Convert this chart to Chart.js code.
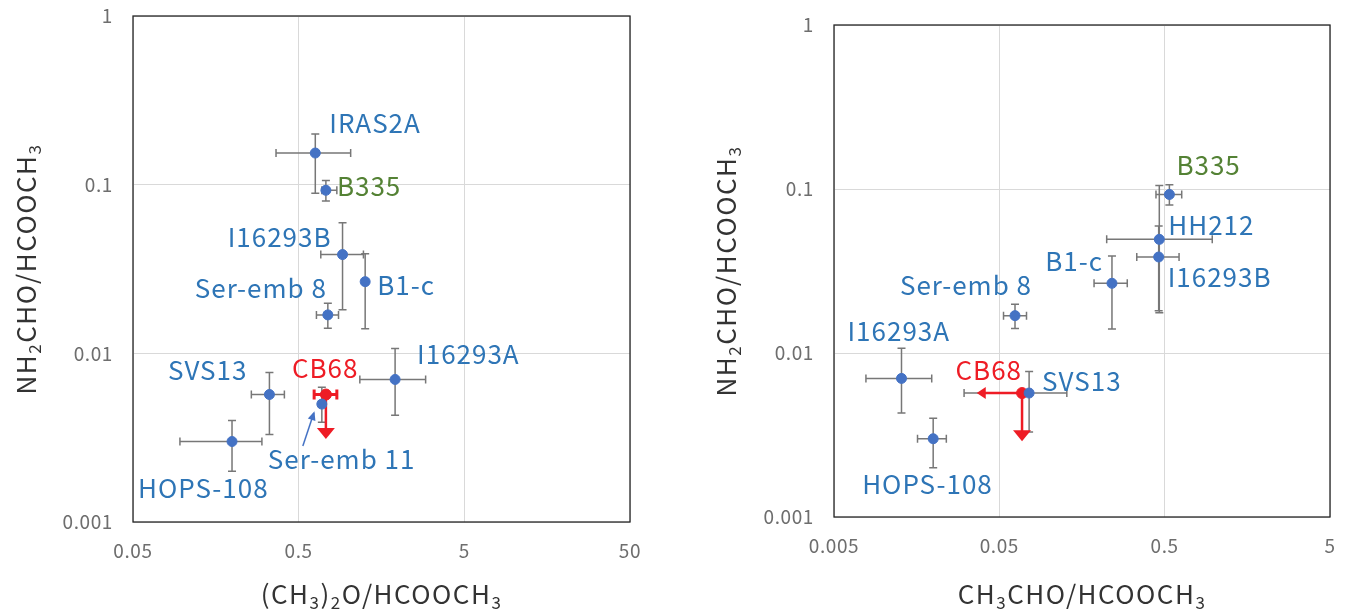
<!DOCTYPE html>
<html>
<head>
<meta charset="utf-8">
<script src="https://cdn.jsdelivr.net/npm/chart.js@4.4.1/dist/chart.umd.min.js"></script>
<style>
    body { margin: 0; background: #fff; }
    #chartLeft { position: absolute; left: 0; top: 0; }
    #chartRight { position: absolute; left: 700px; top: 0; }
</style>
</head>
<body>
<canvas id="chartLeft" width="680" height="611"></canvas>
<canvas id="chartRight" width="661" height="611"></canvas>
<script>
// ===========================
// DATOS - panel izquierdo: (CH3)2O/HCOOCH3 vs NH2CHO/HCOOCH3
// ===========================
const leftNames = ["IRAS2A", "B335", "I16293B", "B1-c", "Ser-emb 8", "I16293A", "SVS13", "HOPS-108", "Ser-emb 11"];
const leftX   = [0.63, 0.73, 0.92, 1.26, 0.75, 1.91, 0.333, 0.198, 0.69];
const leftXLo = [0.365, 0.69, 0.68, 1.22, 0.64, 1.17, 0.259, 0.096, 0.66];
const leftXHi = [1.03, 0.85, 1.23, 1.30, 0.87, 2.92, 0.41, 0.30, 0.72];
const leftY   = [0.154, 0.0926, 0.0385, 0.0266, 0.0169, 0.0070, 0.0057, 0.0030, 0.0050];
const leftYLo = [0.089, 0.080, 0.0181, 0.014, 0.0141, 0.0043, 0.0033, 0.0020, 0.0039];
const leftYHi = [0.20, 0.106, 0.0595, 0.039, 0.0198, 0.0107, 0.0077, 0.0040, 0.0063];
const leftXTicks = [0.05, 0.5, 5, 50];

// CB68 (límite superior)
const cb68LeftXY = [0.73, 0.0057];
const cb68LeftXErr = [0.62, 0.85];
const cb68LeftYLimit = 0.0031;

// ===========================
// DATOS - panel derecho: CH3CHO/HCOOCH3 vs NH2CHO/HCOOCH3
// ===========================
const rightNames = ["B335", "HH212", "I16293B", "B1-c", "Ser-emb 8", "I16293A", "HOPS-108", "SVS13"];
const rightX   = [0.534, 0.464, 0.46, 0.24, 0.0622, 0.0128, 0.0199, 0.0757];
const rightXLo = [0.443, 0.223, 0.339, 0.187, 0.053, 0.0078, 0.016, 0.0306];
const rightXHi = [0.634, 0.97, 0.611, 0.297, 0.073, 0.0195, 0.0239, 0.128];
const rightY   = [0.0926, 0.0493, 0.0385, 0.0266, 0.0169, 0.0070, 0.0030, 0.0057];
const rightYLo = [0.080, 0.0176, 0.0181, 0.014, 0.0141, 0.0043, 0.0020, 0.0033];
const rightYHi = [0.106, 0.105, 0.0595, 0.039, 0.0198, 0.0107, 0.0040, 0.0077];
const rightXTicks = [0.005, 0.05, 0.5, 5];

const cb68RightXY = [0.0686, 0.0057];
const cb68RightXLimit = 0.0365;
const cb68RightYLimit = 0.0029;

const yTicks = [0.001, 0.01, 0.1, 1];

// ===========================
// ESTILO / POSICIÓN DE ETIQUETAS (offset en px desde el punto)
// ===========================
const BLUE = "#4472C4";
const TEXT_BLUE = "#2E75B6";
const GREEN = "#548235";
const RED = "#EE1C25";
const GREY = "#777777";
const FONT = "'Noto Sans CJK JP', 'Noto Sans', sans-serif";

const leftLabelPos = {
    "IRAS2A": [14, -30, "left"], "B335": [11, -4, "left"], "I16293B": [-11, -17, "right"],
    "B1-c": [12, 3, "left"], "Ser-emb 8": [-1, -27, "right"], "I16293A": [22, -25, "left"],
    "SVS13": [-22, -24, "right"], "HOPS-108": [-94, 47, "left"], "Ser-emb 11": [-54, 55, "left"]
};
const rightLabelPos = {
    "B335": [7, -29, "left"], "HH212": [9, -14, "left"], "I16293B": [9, 20, "left"],
    "B1-c": [-9, -22, "right"], "Ser-emb 8": [17, -31, "right"], "I16293A": [-54, -47, "left"],
    "HOPS-108": [-71, 45, "left"], "SVS13": [13, -12, "left"]
};

// texto con subíndices: "_3" -> 3 como subíndice
function drawRich(ctx, str, cx, cy, rotate) {
    const parts = [];
    let buf = "";
    for (let i = 0; i < str.length; i++) {
        if (str[i] === "_") {
            if (buf) parts.push([buf, false]);
            buf = "";
            parts.push([str[i + 1], true]);
            i++;
        } else buf += str[i];
    }
    if (buf) parts.push([buf, false]);

    const big = "26px " + FONT, small = "17px " + FONT;
    ctx.save();
    ctx.letterSpacing = "1.5px";
    let total = 0;
    parts.forEach(p => { ctx.font = p[1] ? small : big; total += ctx.measureText(p[0]).width; });

    ctx.translate(cx, cy);
    if (rotate) ctx.rotate(-Math.PI / 2);
    ctx.fillStyle = "#333333";
    ctx.textBaseline = "middle";
    ctx.textAlign = "left";
    let x = -total / 2;
    parts.forEach(p => {
        ctx.font = p[1] ? small : big;
        ctx.fillText(p[0], x, p[1] ? 9 : 0);
        x += ctx.measureText(p[0]).width;
    });
    ctx.restore();
}

function errBar(ctx, x1, y1, x2, y2, cap, vertical) {
    ctx.beginPath();
    ctx.moveTo(x1, y1); ctx.lineTo(x2, y2);
    if (vertical) {
        ctx.moveTo(x1 - cap, y1); ctx.lineTo(x1 + cap, y1);
        ctx.moveTo(x2 - cap, y2); ctx.lineTo(x2 + cap, y2);
    } else {
        ctx.moveTo(x1, y1 - cap); ctx.lineTo(x1, y1 + cap);
        ctx.moveTo(x2, y2 - cap); ctx.lineTo(x2, y2 + cap);
    }
    ctx.stroke();
}

function arrowHead(ctx, tx, ty, dir, len, half) {
    ctx.beginPath();
    if (dir === "down") {
        ctx.moveTo(tx, ty); ctx.lineTo(tx - half, ty - len); ctx.lineTo(tx + half, ty - len);
    } else {
        ctx.moveTo(tx, ty); ctx.lineTo(tx + len, ty - half); ctx.lineTo(tx + len, ty + half);
    }
    ctx.closePath();
    ctx.fill();
}

function buildChart(id, cfg) {
    const ctx = document.getElementById(id).getContext("2d");

    const decorPlugin = {
        id: "decor",
        beforeDraw(chart) {
            chart.ctx.letterSpacing = "0.6px";
        },
        beforeDatasetsDraw(chart) {
            const c = chart.ctx, sx = chart.scales.x, sy = chart.scales.y;
            c.save();
            c.strokeStyle = GREY;
            c.lineWidth = 1.5;
            cfg.x.forEach((v, i) => {
                const px = sx.getPixelForValue(v), py = sy.getPixelForValue(cfg.y[i]);
                errBar(c, sx.getPixelForValue(cfg.xLo[i]), py, sx.getPixelForValue(cfg.xHi[i]), py, 4, false);
                errBar(c, px, sy.getPixelForValue(cfg.yHi[i]), px, sy.getPixelForValue(cfg.yLo[i]), 4, true);
            });

            // CB68 en rojo
            const cx = sx.getPixelForValue(cfg.cb68[0]), cy = sy.getPixelForValue(cfg.cb68[1]);
            c.strokeStyle = RED;
            c.fillStyle = RED;
            if (cfg.cb68XErr) {
                c.lineWidth = 3;
                errBar(c, sx.getPixelForValue(cfg.cb68XErr[0]), cy, sx.getPixelForValue(cfg.cb68XErr[1]), cy, 5, false);
            }
            c.lineWidth = 2.5;
            const ty = sy.getPixelForValue(cfg.cb68YLimit);
            c.beginPath(); c.moveTo(cx, cy); c.lineTo(cx, ty - 8); c.stroke();
            arrowHead(c, cx, ty, "down", 11, 9);
            if (cfg.cb68XLimit) {
                const tx = sx.getPixelForValue(cfg.cb68XLimit);
                c.beginPath(); c.moveTo(cx, cy); c.lineTo(tx + 8, cy); c.stroke();
                arrowHead(c, tx, cy, "left", 9, 6);
            }
            c.restore();
        },
        afterDatasetsDraw(chart) {
            const c = chart.ctx, sx = chart.scales.x, sy = chart.scales.y, a = chart.chartArea;
            c.save();
            // marco del área
            c.strokeStyle = "#262626";
            c.lineWidth = 1.3;
            c.strokeRect(a.left, a.top, a.right - a.left, a.bottom - a.top);

            c.font = "26px " + FONT;
            c.letterSpacing = "1px";
            c.textBaseline = "middle";
            cfg.names.forEach((n, i) => {
                const p = cfg.labelPos[n];
                const px = sx.getPixelForValue(cfg.x[i]), py = sy.getPixelForValue(cfg.y[i]);
                c.fillStyle = n === "B335" ? GREEN : TEXT_BLUE;
                c.textAlign = p[2];
                c.fillText(n, px + p[0], py + p[1]);
            });
            const cx = sx.getPixelForValue(cfg.cb68[0]), cy = sy.getPixelForValue(cfg.cb68[1]);
            c.fillStyle = RED;
            c.textAlign = cfg.cb68Label[2];
            c.fillText("CB68", cx + cfg.cb68Label[0], cy + cfg.cb68Label[1]);

            // flecha de Ser-emb 11
            if (cfg.pointer) {
                const i = cfg.names.indexOf(cfg.pointer.name);
                const px = sx.getPixelForValue(cfg.x[i]), py = sy.getPixelForValue(cfg.y[i]);
                const [x0, y0, x1, y1] = cfg.pointer.seg;
                c.strokeStyle = BLUE; c.fillStyle = BLUE; c.lineWidth = 1.5;
                c.beginPath(); c.moveTo(px + x0, py + y0); c.lineTo(px + x1, py + y1); c.stroke();
                const ang = Math.atan2(y1 - y0, x1 - x0);
                c.save();
                c.translate(px + x1, py + y1); c.rotate(ang);
                c.beginPath(); c.moveTo(2, 0); c.lineTo(-7, -4); c.lineTo(-7, 4); c.closePath(); c.fill();
                c.restore();
            }

            drawRich(c, cfg.xTitle, (a.left + a.right) / 2, 594, false);
            drawRich(c, "NH_2CHO/HCOOCH_3", 26, (a.top + a.bottom) / 2, true);
            c.restore();
        }
    };

    const tickFont = { size: 19, family: FONT };

    new Chart(ctx, {
        type: "scatter",
        data: {
            datasets: [{
                data: cfg.x.map((v, i) => ({ x: v, y: cfg.y[i] })),
                backgroundColor: BLUE,
                borderColor: BLUE,
                pointRadius: 5
            }, {
                data: [{ x: cfg.cb68[0], y: cfg.cb68[1] }],
                backgroundColor: RED,
                borderColor: RED,
                pointRadius: 5.5
            }]
        },
        options: {
            responsive: false,
            animation: false,
            events: [],
            layout: { padding: cfg.padding },
            plugins: { legend: { display: false }, tooltip: { enabled: false } },
            scales: {
                x: {
                    type: "logarithmic",
                    min: cfg.xTicks[0],
                    max: cfg.xTicks[cfg.xTicks.length - 1],
                    afterBuildTicks: s => { s.ticks = cfg.xTicks.map(v => ({ value: v })); },
                    afterFit: s => { s.height = cfg.xAxisH; s.paddingLeft = 0; s.paddingRight = 0; },
                    ticks: { callback: v => String(v), color: "#6e6e6e", font: tickFont, padding: 17, autoSkip: false, maxRotation: 0 },
                    grid: { color: "#d9d9d9", drawTicks: false },
                    border: { display: false }
                },
                y: {
                    type: "logarithmic",
                    min: 0.001,
                    max: 1,
                    afterBuildTicks: s => { s.ticks = yTicks.map(v => ({ value: v })); },
                    afterFit: s => { s.width = cfg.yAxisW; s.paddingTop = 0; s.paddingBottom = 0; },
                    ticks: { callback: v => String(v), color: "#6e6e6e", font: tickFont, padding: 20, autoSkip: false },
                    grid: { color: "#d9d9d9", drawTicks: false },
                    border: { display: false }
                }
            }
        },
        plugins: [decorPlugin]
    });
}

buildChart("chartLeft", {
    names: leftNames, x: leftX, xLo: leftXLo, xHi: leftXHi, y: leftY, yLo: leftYLo, yHi: leftYHi,
    xTicks: leftXTicks, labelPos: leftLabelPos,
    cb68: cb68LeftXY, cb68XErr: cb68LeftXErr, cb68YLimit: cb68LeftYLimit, cb68Label: [-34, -26, "left"],
    pointer: { name: "Ser-emb 11", seg: [-19, 42, -8, 9] },
    xTitle: "(CH_3)_2O/HCOOCH_3",
    padding: { left: 0, top: 16, right: 50, bottom: 0 }, yAxisW: 133, xAxisH: 89
});

buildChart("chartRight", {
    names: rightNames, x: rightX, xLo: rightXLo, xHi: rightXHi, y: rightY, yLo: rightYLo, yHi: rightYHi,
    xTicks: rightXTicks, labelPos: rightLabelPos,
    cb68: cb68RightXY, cb68XLimit: cb68RightXLimit, cb68YLimit: cb68RightYLimit, cb68Label: [0, -23, "right"],
    xTitle: "CH_3CHO/HCOOCH_3",
    padding: { left: 0, top: 25, right: 31, bottom: 0 }, yAxisW: 134, xAxisH: 94
});
</script>
</body>
</html>
